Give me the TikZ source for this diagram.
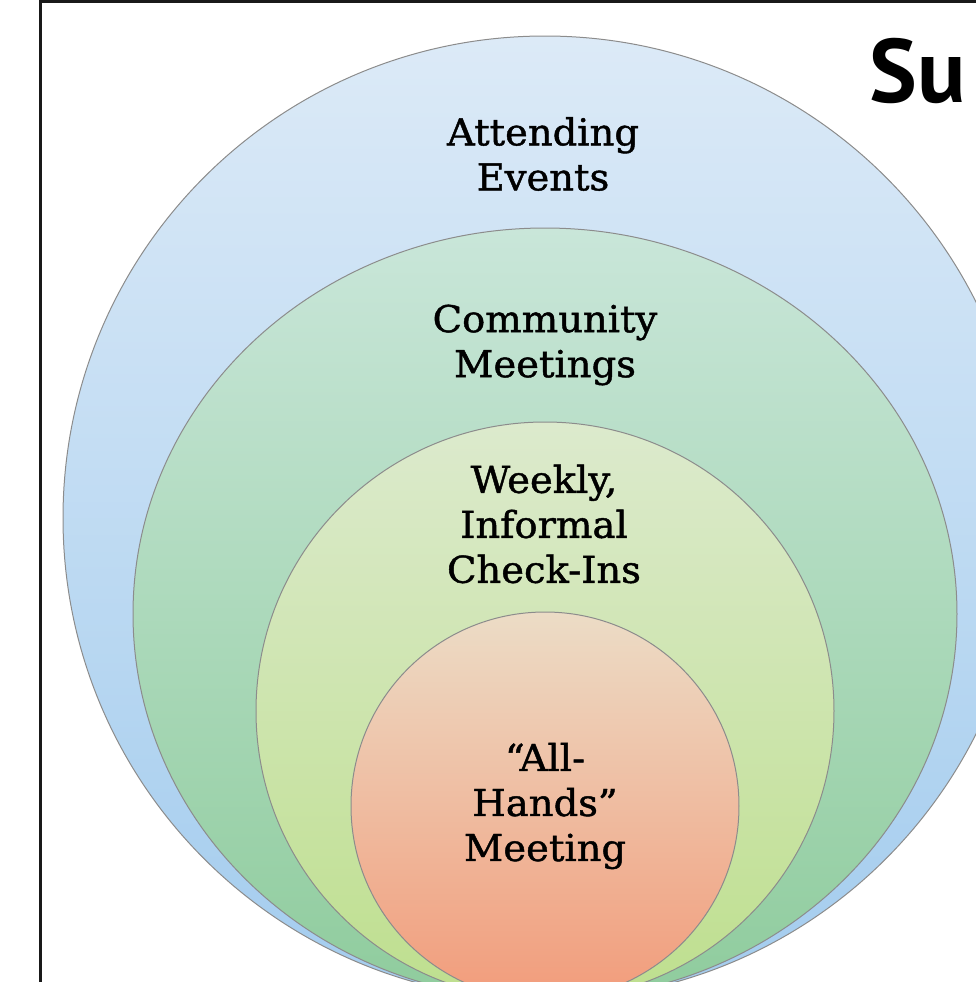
\documentclass[tikz,border=0pt]{standalone}
\usepackage{fontspec}
\setmainfont{DejaVu Serif}
\newfontfamily\ringfont{DejaVu Serif}[FakeStretch=1.04, FakeBold=1.2]
\newfontfamily\titlefont{PT Sans}
\usetikzlibrary{positioning}
\definecolor{evtop}{HTML}{DCEAF7}
\definecolor{evbot}{HTML}{A3CCEE}
\definecolor{comtop}{HTML}{C9E6D9}
\definecolor{combot}{HTML}{8FCC9D}
\definecolor{chktop}{HTML}{DCEACD}
\definecolor{chkbot}{HTML}{BEDF8E}
\definecolor{alltop}{HTML}{ECDCC6}
\definecolor{allbot}{HTML}{F29C7B}
\tikzset{ring/.style={draw=black!45, line width=0.5pt}}
\tikzset{ringtext/.style={align=center, inner sep=0pt, font=\ringfont\fontsize{18.5}{22.5}\selectfont}}
\tikzset{pageframe/.style={draw=black!90, line width=1.5pt}}
\tikzset{titletext/.style={anchor=base west, inner sep=0pt, font=\titlefont\bfseries\fontsize{45}{45}\selectfont}}

\begin{document}
\begin{tikzpicture}[x=0.5pt, y=-0.5pt]
	\clip (0,0) rectangle (976,982);
	\draw[pageframe] (40,1.5) rectangle (1200,1200);
	% nested rings, all touching at the bottom
	\path[ring, top color=evtop, bottom color=evbot]
		(545,518) ellipse [x radius=482, y radius=482];
	\path[ring, top color=comtop, bottom color=combot]
		(545,614) ellipse [x radius=412, y radius=386];
	\path[ring, top color=chktop, bottom color=chkbot]
		(545,711) ellipse [x radius=289, y radius=289];
	\path[ring, top color=alltop, bottom color=allbot]
		(545,806) ellipse [x radius=194, y radius=194];
	\node[ringtext] (events) at (543,154) {Attending\\Events};
	\node[ringtext] (community) at (545,345) {Community\\Meetings};
	\node[ringtext] (checkins) at (544,524) {Weekly,\\Informal\\Check-Ins};
	\node[ringtext] (allhands) at (545,806) {“All-\\Hands”\\Meeting};
	\node[titletext] (title) at (869,102) {Su};
\end{tikzpicture}
\end{document}
